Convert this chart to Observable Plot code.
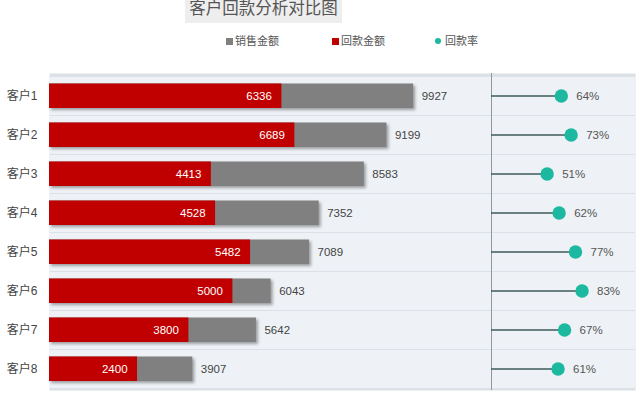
<!DOCTYPE html>
<html>
<head>
<meta charset="utf-8">
<script src="https://cdn.jsdelivr.net/npm/d3@7"></script>
<script src="https://cdn.jsdelivr.net/npm/@observablehq/plot@0.6"></script>
<style>
  html, body { margin: 0; padding: 0; background: #fff; }
  body { font-family: "Liberation Sans", "Noto Sans CJK SC", sans-serif; }
  #root { position: relative; width: 640px; height: 397px; overflow: hidden; }
  #title { position: absolute; left: 185px; top: 0; width: 157px; height: 23px; background: #eeeeee;
           color: #555; font-size: 16.5px; line-height: 18px; text-align: center; overflow: hidden; }
  #title span { position: relative; top: -1px; }
  .leg { position: absolute; top: 33px; font-size: 11px; color: #555; line-height: 16px; white-space: nowrap; }
  .sw { display: inline-block; width: 7px; height: 7px; margin-right: 2px; vertical-align: 0px; }
  .dt { display: inline-block; width: 6px; height: 6px; border-radius: 50%; margin-right: 4px; vertical-align: 1px; }
  #left { position: absolute; left: 0; top: 60px; }
  #right { position: absolute; left: 490px; top: 60px; }
  g[aria-label="bar"].shadow rect { filter: drop-shadow(2px 2px 1.5px rgba(0,0,0,0.35)); }
</style>
</head>
<body>
<div id="root">
  <div id="title"><span>客户回款分析对比图</span></div>
  <div class="leg" style="left:226px"><span class="sw" style="background:#808080"></span>销售金额</div>
  <div class="leg" style="left:332px"><span class="sw" style="background:#c00000"></span>回款金额</div>
  <div class="leg" style="left:435px"><span class="dt" style="background:#1cb89f"></span>回款率</div>
  <div id="left"></div>
  <div id="right"></div>
</div>
<script>
const customers = ["客户1", "客户2", "客户3", "客户4", "客户5", "客户6", "客户7", "客户8"];
const sales     = [9927, 9199, 8583, 7352, 7089, 6043, 5642, 3907];
const received  = [6336, 6689, 4413, 4528, 5482, 5000, 3800, 2400];
const rates     = [0.64, 0.73, 0.51, 0.62, 0.77, 0.83, 0.67, 0.61];

const data = customers.map((c, i) => ({customer: c, sales: sales[i], received: received[i], rate: rates[i]}));
const xMax = 12050, rMax = 1.32;
const font = "'Liberation Sans', 'Noto Sans CJK SC', sans-serif";
const H = 337, MT = 13, MB = 7;
const bgRow = "#eef2f6", sep = "#dce1e7";

const left = Plot.plot({
  width: 491, height: H, marginTop: MT, marginBottom: MB, marginLeft: 49, marginRight: 0,
  style: {background: "transparent", fontFamily: font, fontSize: "12px", color: "#444"},
  x: {domain: [0, xMax], axis: null},
  y: {domain: customers, padding: 0, tickSize: 0, tickPadding: 12, label: null},
  marks: [
    Plot.frame({fill: sep, stroke: null}),
    Plot.barX(customers, {y: d => d, x1: 0, x2: xMax, fill: bgRow, insetTop: 1}),
    Plot.barX(data, {y: "customer", x: "sales", fill: "#808080", insetTop: 7.5, insetBottom: 7, className: "shadow"}),
    Plot.barX(data, {y: "customer", x: "received", fill: "#c00000", insetTop: 7.5, insetBottom: 7}),
    Plot.text(data, {y: "customer", x: "received", text: d => String(d.received), textAnchor: "end", dx: -10, dy: 0.5, fill: "#fff", fontSize: 11.5}),
    Plot.text(data, {y: "customer", x: "sales", text: d => String(d.sales), textAnchor: "start", dx: 8, dy: 0.5, fill: "#444", fontSize: 11.5})
  ]
});
document.getElementById("left").appendChild(left);

const right = Plot.plot({
  width: 150, height: H, marginTop: MT, marginBottom: MB, marginLeft: 1, marginRight: 5,
  style: {background: "transparent", fontFamily: font, fontSize: "12px", color: "#444"},
  x: {domain: [0, rMax], axis: null},
  y: {domain: customers, padding: 0, axis: null},
  marks: [
    Plot.frame({fill: sep, stroke: null}),
    Plot.barX(customers, {y: d => d, x1: 0, x2: rMax, fill: bgRow, insetTop: 1}),
    Plot.ruleX([0], {stroke: "#8f9898", strokeWidth: 1}),
    Plot.ruleY(data, {y: "customer", x1: 0, x2: "rate", stroke: "#3e5b5b", strokeWidth: 1.5}),
    Plot.dot(data, {y: "customer", x: "rate", r: 6.7, fill: "#1cb89f", stroke: null}),
    Plot.text(data, {y: "customer", x: "rate", text: d => Math.round(d.rate * 100) + "%", textAnchor: "start", dx: 15, dy: 0.5, fill: "#555", fontSize: 11.5})
  ]
});
document.getElementById("right").appendChild(right);
</script>
</body>
</html>
